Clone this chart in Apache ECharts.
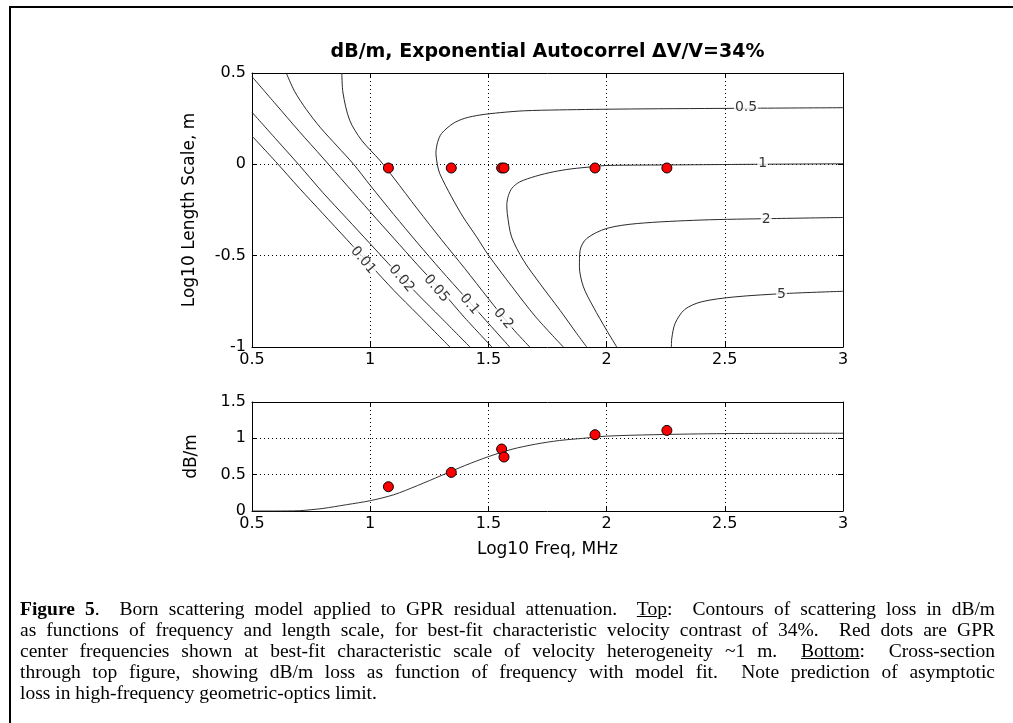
<!DOCTYPE html>
<html>
<head>
<meta charset="utf-8">
<script src="https://cdn.jsdelivr.net/npm/echarts@6/dist/echarts.min.js"></script>
<style>
html,body{margin:0;padding:0;background:#fff;}
#wrap{position:relative;width:1013px;height:723px;overflow:hidden;background:#fff;}
#chart{position:absolute;left:0;top:0;width:1013px;height:723px;}
#cap{position:absolute;left:20px;top:598px;width:975px;font-family:'Liberation Serif','Times New Roman',serif;font-size:19.5px;line-height:21px;color:#000;}
#cap .ln{text-align:justify;text-align-last:justify;white-space:normal;height:21px;}
#cap .last{text-align:left;text-align-last:left;}
</style>
</head>
<body>
<div id="wrap">
<div id="chart"></div>
<div id="cap">
<div class="ln"><b>Figure 5</b>.&nbsp; Born scattering model applied to GPR residual attenuation.&nbsp; <u>Top</u>:&nbsp; Contours of scattering loss in dB/m</div>
<div class="ln">as functions of frequency and length scale, for best-fit characteristic velocity contrast of 34%.&nbsp; Red dots are GPR</div>
<div class="ln">center frequencies shown at best-fit characteristic scale of velocity heterogeneity ~1 m.&nbsp; <u>Bottom</u>:&nbsp; Cross-section</div>
<div class="ln">through top figure, showing dB/m loss as function of frequency with model fit.&nbsp; Note prediction of asymptotic</div>
<div class="ln last">loss in high-frequency geometric-optics limit.</div>
</div>
</div>
<script>
// ---------------- DATA ----------------
const titleText = 'dB/m, Exponential Autocorrel \u0394V/V=34%';
const xName = 'Log10 Freq, MHz';
const yNameTop = 'Log10 Length Scale, m';
const yNameBottom = 'dB/m';

const contourLevels = ['0.01', '0.02', '0.05', '0.1', '0.2', '0.5', '1', '2', '5'];

const contour001 = [[0.5,0.155],[0.6,0.015],[0.7,-0.13],[0.8,-0.27],[0.9,-0.41],[1.0,-0.55],[1.1,-0.69],[1.2,-0.82],[1.337,-1.0]];
const contour002 = [[0.5,0.285],[0.6,0.14],[0.7,-0.005],[0.8,-0.155],[0.9,-0.295],[1.0,-0.435],[1.1,-0.575],[1.2,-0.71],[1.3,-0.84],[1.422,-1.0]];
const contour005 = [[0.5,0.48],[0.6,0.33],[0.7,0.18],[0.8,0.035],[0.9,-0.113],[1.0,-0.26],[1.1,-0.405],[1.2,-0.55],[1.3,-0.69],[1.4,-0.84],[1.515,-1.0]];
const contour01  = [[0.645,0.5],[0.68,0.4],[0.73,0.3],[0.79,0.2],[0.86,0.1],[0.93,0.0],[1.0,-0.115],[1.1,-0.275],[1.2,-0.43],[1.3,-0.58],[1.4,-0.725],[1.5,-0.87],[1.59,-1.0]];
const contour02  = [[0.88,0.5],[0.885,0.39],[0.913,0.242],[0.963,0.133],[1.04,0.023],[1.1,-0.075],[1.2,-0.245],[1.3,-0.41],[1.4,-0.57],[1.5,-0.735],[1.6,-0.895],[1.675,-1.0]];
const contour05  = [[3.0,0.31],[2.6,0.307],[2.1,0.303],[1.8,0.298],[1.65,0.293],[1.55,0.283],[1.464,0.27],[1.4,0.252],[1.351,0.224],[1.302,0.169],[1.285,0.12],[1.278,0.06],[1.284,0.0],[1.294,-0.05],[1.344,-0.178],[1.393,-0.288],[1.45,-0.397],[1.5,-0.497],[1.6,-0.67],[1.7,-0.835],[1.817,-1.0]];
const contour1   = [[3.0,0.003],[2.6,0.0],[2.3,-0.003],[2.0,-0.006],[1.95,-0.012],[1.85,-0.025],[1.775,-0.041],[1.7,-0.065],[1.633,-0.096],[1.6,-0.13],[1.585,-0.17],[1.578,-0.22],[1.58,-0.27],[1.598,-0.397],[1.648,-0.525],[1.718,-0.653],[1.803,-0.799],[1.874,-0.927],[1.916,-1.0]];
const contour2   = [[3.0,-0.291],[2.7,-0.297],[2.4,-0.305],[2.13,-0.324],[2.0,-0.351],[1.916,-0.406],[1.888,-0.47],[1.885,-0.561],[1.902,-0.671],[1.944,-0.781],[2.0,-0.908],[2.043,-1.0]];
const contour5   = [[3.0,-0.695],[2.76,-0.707],[2.54,-0.726],[2.4,-0.753],[2.33,-0.795],[2.29,-0.87],[2.276,-0.95],[2.274,-1.0]];

const contourLabelPos = [[0.97,-0.525],[1.132,-0.625],[1.28,-0.68],[1.42,-0.766],[1.563,-0.845],[2.59,0.31],[2.66,0.003],[2.675,-0.303],[2.74,-0.712]];

const gprFreq  = [1.077, 1.343, 1.556, 1.566, 1.951, 2.255];
const gprScale = [-0.02, -0.02, -0.02, -0.02, -0.02, -0.02];
const gprLoss  = [0.334, 0.531, 0.853, 0.743, 1.05, 1.109];

const fitFreq = [0.5, 0.6, 0.7, 0.75, 0.8, 0.9, 1.0, 1.1, 1.2, 1.3, 1.4, 1.5, 1.6, 1.7, 1.8, 1.9, 2.0, 2.2, 2.5, 3.0];
const fitLoss = [0.0, 0.0, 0.004, 0.018, 0.035, 0.087, 0.142, 0.224, 0.35, 0.487, 0.625, 0.748, 0.85, 0.92, 0.97, 1.0, 1.03, 1.05, 1.065, 1.07];

// ---------------- STYLE ----------------
const FONT = 'DejaVu Sans';
const labelRotate = [-50, -50, -50, -50, -50, 0, 0, 0, 0];
const contourColor = '#2a2a2a';

const contourSets = [contour001, contour002, contour005, contour01, contour02, contour05, contour1, contour2, contour5];

function xAxis(gridIndex, position, showLabel, showSplit, name) {
  return {
    type: 'value', gridIndex: gridIndex, position: position,
    min: 0.5, max: 3, interval: 0.5,
    axisLine: {show: true, onZero: false, lineStyle: {color: '#000', width: 1}},
    axisTick: {show: true, inside: true, length: 5, lineStyle: {color: '#000'}},
    axisLabel: {show: showLabel, color: '#000', fontFamily: FONT, fontSize: 16, margin: 5},
    splitLine: {show: showSplit, lineStyle: {color: '#000', type: [1, 3], width: 1}},
    name: name || '', nameLocation: 'middle', nameGap: 30,
    nameTextStyle: {color: '#000', fontFamily: FONT, fontSize: 17}
  };
}
function yAxis(gridIndex, position, min, max, showLabel, showSplit, name, gap) {
  return {
    type: 'value', gridIndex: gridIndex, position: position,
    min: min, max: max, interval: 0.5,
    axisLine: {show: true, onZero: false, lineStyle: {color: '#000', width: 1}},
    axisTick: {show: true, inside: true, length: 5, lineStyle: {color: '#000'}},
    axisLabel: {show: showLabel, color: '#000', fontFamily: FONT, fontSize: 16, margin: 6},
    splitLine: {show: showSplit, lineStyle: {color: '#000', type: [1, 3], width: 1}},
    name: name || '', nameLocation: 'middle', nameGap: gap || 0, nameRotate: 90,
    nameTextStyle: {color: '#000', fontFamily: FONT, fontSize: 17}
  };
}

const series = [];
contourSets.forEach(function (pts, i) {
  series.push({
    type: 'line', xAxisIndex: 0, yAxisIndex: 0, data: pts,
    showSymbol: false, smooth: 0.3, silent: true, z: 2,
    lineStyle: {color: contourColor, width: 1}
  });
});
series.push({
  type: 'scatter', xAxisIndex: 0, yAxisIndex: 0, symbolSize: 0, silent: true, z: 4,
  data: contourLabelPos.map(function (p, i) {
    return {value: p, name: contourLevels[i], label: {rotate: labelRotate[i]}};
  }),
  label: {show: true, position: 'inside', formatter: '{b}', color: '#000', fontFamily: FONT, fontSize: 14,
          backgroundColor: '#fff', padding: [0, 1]}
});
series.push({
  type: 'scatter', xAxisIndex: 0, yAxisIndex: 0, symbolSize: 10, z: 5,
  data: gprFreq.map(function (f, i) { return [f, gprScale[i]]; }),
  itemStyle: {color: '#ff0000', borderColor: '#000', borderWidth: 1, opacity: 1}
});
series.push({
  type: 'line', xAxisIndex: 2, yAxisIndex: 2, showSymbol: false, smooth: 0.3, z: 2,
  data: fitFreq.map(function (f, i) { return [f, fitLoss[i]]; }),
  lineStyle: {color: '#333', width: 1}
});
series.push({
  type: 'scatter', xAxisIndex: 2, yAxisIndex: 2, symbolSize: 10, z: 5,
  data: gprFreq.map(function (f, i) { return [f, gprLoss[i]]; }),
  itemStyle: {color: '#ff0000', borderColor: '#000', borderWidth: 1, opacity: 1}
});

const chart = echarts.init(document.getElementById('chart'), null, {renderer: 'canvas'});
chart.setOption({
  animation: false,
  backgroundColor: 'transparent',
  grid: [
    {left: 252, top: 73, width: 591, height: 274, containLabel: false},
    {left: 252, top: 402, width: 591, height: 109, containLabel: false}
  ],
  xAxis: [
    xAxis(0, 'bottom', true, true),
    xAxis(0, 'top', false, false),
    xAxis(1, 'bottom', true, true, xName),
    xAxis(1, 'top', false, false)
  ],
  yAxis: [
    yAxis(0, 'left', -1, 0.5, true, true, yNameTop, 54),
    yAxis(0, 'right', -1, 0.5, false, false),
    yAxis(1, 'left', 0, 1.5, true, true, yNameBottom, 52),
    yAxis(1, 'right', 0, 1.5, false, false)
  ],
  graphic: [
    {type: 'rect', silent: true, z: 0, shape: {x: 10, y: 7, width: 1100, height: 800},
     style: {fill: 'none', stroke: '#000', lineWidth: 2}},
    {type: 'text', silent: true, x: 547.5, y: 52,
     style: {text: titleText, fill: '#000', font: 'bold 19px "DejaVu Sans"', textAlign: 'center', textVerticalAlign: 'middle'}}
  ],
  series: series
});
</script>
</body>
</html>
